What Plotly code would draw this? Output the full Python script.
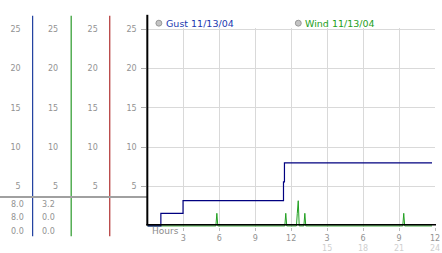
import plotly.graph_objects as go

W, H = 442, 253

# ---- data ----
gust_hours = [0, 1.13, 2.98, 11.36, 11.44, 23.75]
gust_values = [0, 1.6, 3.2, 5.6, 8.0, 8.0]

wind_hours = [0, 5.72, 5.80, 5.88, 11.47, 11.55, 11.63, 12.44, 12.51, 12.59, 12.67,
              13.06, 13.14, 13.22, 21.31, 21.39, 21.47, 23.75]
wind_values = [0, 0, 1.6, 0, 0, 1.6, 0, 0, 1.6, 3.2, 0, 0, 1.6, 0, 0, 1.6, 0, 0]

x_tickvals = [3, 6, 9, 12, 15, 18, 21, 24]
x_top_labels = ["3", "6", "9", "12", "3", "6", "9", "12"]
x_bottom_labels = ["", "", "", "", "15", "18", "21", "24"]
y_tickvals = [5, 10, 15, 20, 25]

gust_stats = ["8.0", "8.0", "0.0"]
wind_stats = ["3.2", "0.0", "0.0"]
legend_names = ["Gust 11/13/04", "Wind 11/13/04"]

# ---- helpers ----
def px(x):
    return x / W

def py(y):
    return 1 - y / H

ZERO_Y = 226.5
PPU = 8.0
DOM_TOP, DOM_BOT = 25.0, 228.0
yrange = [-(DOM_BOT - ZERO_Y) / PPU, (ZERO_Y - DOM_TOP) / PPU]

tick_font = dict(family="DejaVu Sans", size=8, color="#929292")

fig = go.Figure()
fig.add_trace(go.Scatter(x=wind_hours, y=wind_values, mode="lines", line_shape="linear",
                         line=dict(color="#22a022", width=1), showlegend=False, hoverinfo="skip"))
fig.add_trace(go.Scatter(x=gust_hours, y=gust_values, mode="lines", line_shape="hv",
                         line=dict(color="#000080", width=1.2), showlegend=False, hoverinfo="skip"))
# empty traces so the extra label columns get drawn
for ax in ["y2", "y3", "y4"]:
    fig.add_trace(go.Scatter(x=[None], y=[None], yaxis=ax, mode="lines",
                             showlegend=False, hoverinfo="skip"))

ticktext = []
for t, b in zip(x_top_labels, x_bottom_labels):
    if b:
        ticktext.append(f"{t}<br><span style='color:#cfcfcf'>{b}</span>")
    else:
        ticktext.append(t)

fig.update_layout(
    width=W, height=H,
    margin=dict(l=0, r=0, t=0, b=0),
    paper_bgcolor="white", plot_bgcolor="white",
    xaxis=dict(domain=[px(149), px(440)], range=[0, 24], tickvals=x_tickvals, ticktext=ticktext,
               showgrid=True, gridcolor="#d9d9d9", gridwidth=1, zeroline=False, showline=False,
               ticks="outside", ticklen=3, tickcolor="#bbbbbb", tickfont=tick_font,
               ticklabeloverflow="allow", anchor="y"),
    yaxis=dict(domain=[py(DOM_BOT), py(DOM_TOP)], range=yrange, tickvals=y_tickvals,
               showgrid=True, gridcolor="#d9d9d9", gridwidth=1, zeroline=False, showline=False,
               ticks="outside", ticklen=5, tickcolor="#b0b0b0", tickfont=tick_font,
               ticklabelstandoff=3),
)

# extra tick-label columns
for name, pos, stand in [("yaxis2", 33, 12), ("yaxis3", 72, 13), ("yaxis4", 111, 12)]:
    fig.layout[name] = dict(overlaying="y", anchor="free", position=px(pos), side="left",
                            range=yrange, tickvals=y_tickvals, showgrid=False, zeroline=False,
                            showline=False, ticks="", tickfont=tick_font, ticklabelstandoff=stand)

shapes = []
for x, c in [(33, "#1f3f9f"), (72, "#2a9a2a"), (111, "#b03030")]:
    shapes.append(dict(type="line", xref="paper", yref="paper", x0=px(x), x1=px(x),
                       y0=py(13), y1=py(237), line=dict(color=c, width=1.2)))
shapes.append(dict(type="line", xref="paper", yref="paper", x0=0, x1=px(149),
                   y0=py(197), y1=py(197), line=dict(color="#a0a0a0", width=2)))
shapes.append(dict(type="line", xref="paper", yref="paper", x0=px(149), x1=px(149),
                   y0=py(12), y1=py(226), line=dict(color="black", width=2)))
shapes.append(dict(type="line", xref="paper", yref="paper", x0=px(148), x1=px(441),
                   y0=py(225.3), y1=py(225.3), line=dict(color="black", width=1.5)))
for cx in [160.7, 301.7]:
    shapes.append(dict(type="circle", xref="paper", yref="paper",
                       x0=px(cx - 3), x1=px(cx + 3), y0=py(23.5), y1=py(17.5),
                       fillcolor="#c4c4c4", line=dict(color="#999999", width=1)))
fig.update_layout(shapes=shapes)

ann = []
for txt, x, c in [(legend_names[0], 165.5, "#2038b0"), (legend_names[1], 306, "#22a022")]:
    ann.append(dict(text=txt, x=px(x), y=py(20.5), xref="paper", yref="paper",
                    xanchor="left", yanchor="middle", showarrow=False,
                    font=dict(family="DejaVu Sans", size=9.5, color=c)))
for col_x, vals in [(26, gust_stats), (58, wind_stats)]:
    for yy, v in zip([205, 218.3, 232.3], vals):
        ann.append(dict(text=v, x=px(col_x), y=py(yy), xref="paper", yref="paper",
                        xanchor="right", yanchor="middle", showarrow=False, font=tick_font))
ann.append(dict(text="Hours", x=px(152), y=py(232), xref="paper", yref="paper",
                xanchor="left", yanchor="middle", showarrow=False,
                font=dict(family="DejaVu Sans", size=9, color="#8c8c8c")))
fig.update_layout(annotations=ann)

fig.write_html("out.html")
